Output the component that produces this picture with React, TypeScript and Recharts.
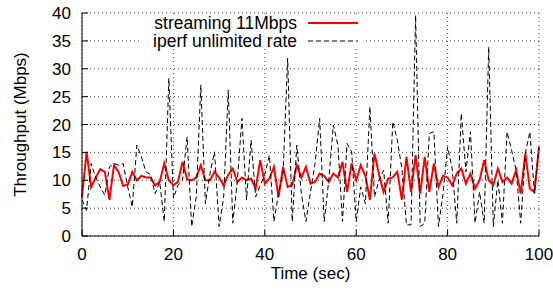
import { LineChart, Line, XAxis, YAxis, CartesianGrid } from "recharts";

const time = [
  0, 1, 2, 3, 4, 5, 6, 7, 8, 9, 10, 11, 12, 13, 14, 15, 16, 17, 18, 19, 20,
  21, 22, 23, 24, 25, 26, 27, 28, 29, 30, 31, 32, 33, 34, 35, 36, 37, 38, 39, 40,
  41, 42, 43, 44, 45, 46, 47, 48, 49, 50, 51, 52, 53, 54, 55, 56, 57, 58, 59, 60,
  61, 62, 63, 64, 65, 66, 67, 68, 69, 70, 71, 72, 73, 74, 75, 76, 77, 78, 79, 80,
  81, 82, 83, 84, 85, 86, 87, 88, 89, 90, 91, 92, 93, 94, 95, 96, 97, 98, 99, 100,
];

// streaming 11Mbps
const streaming = [
  7, 15.1, 8.8, 10.5, 12, 11.5, 6.5, 12.7, 11.5, 9, 9.2,
  11.5, 10, 10.8, 10.5, 10.5, 9.1, 9.7, 13, 10, 9.1,
  9.7, 13.3, 10.2, 10, 10.5, 12.7, 10, 10, 11.5, 10.5,
  9.1, 11, 12.1, 9.7, 10.5, 10, 10.3, 8.5, 13.6, 9.4,
  10.3, 12.4, 7, 12.4, 8.8, 9.1, 12.7, 10.5, 12.4, 9.4,
  9.7, 11.2, 10.8, 9.7, 11.2, 10.5, 13.3, 7.9, 13, 10,
  12.7, 10.8, 6.5, 14.8, 11, 7.9, 10.3, 10.5, 11.5, 6.5,
  14.2, 7.9, 14.5, 7.6, 14.2, 7.9, 13, 8.8, 10.8, 10.5,
  9.1, 11.2, 12.1, 9.4, 11.2, 8.5, 10, 13.6, 10, 9.1,
  12.1, 9.7, 10.5, 9.4, 11.8, 7.6, 14.8, 8.5, 7.9, 16,
];

// iperf unlimited rate
const iperf = [
  6.5, 4.6, 13, 10.5, 8.8, 7.3, 12.4, 13, 12.7, 13, 8.8,
  5.2, 16.3, 14.2, 11.5, 11, 7.6, 9.7, 2.6, 28.3, 6.8,
  9.1, 10, 17.8, 1.7, 7, 27.1, 5.8, 11.2, 15.1, 1.7,
  7, 26.2, 2.3, 10, 21.1, 6.5, 17.2, 7, 9.1, 11,
  14.5, 2.6, 7.6, 11.2, 31.9, 2.6, 16.3, 7.6, 2.6, 7.9,
  13, 21.1, 2.6, 10, 19.9, 16.3, 2.6, 16.6, 15.1, 2.6,
  8.8, 5.8, 23.2, 7, 10, 11.8, 2.3, 20.5, 17.2, 12.1,
  2, 2, 39.6, 1.7, 2.3, 18.4, 18.7, 1.7, 7.6, 16,
  12.1, 2.3, 22, 11.5, 18.7, 2.3, 7.9, 2.3, 33.9, 1.7,
  10, 2.3, 18.7, 15.4, 11.8, 2.3, 14.8, 18.7, 7.6, 16,
];

const xTicks = [0, 20, 40, 60, 80, 100];
const yTicks = [0, 5, 10, 15, 20, 25, 30, 35, 40];

const data = time.map((t, i) => ({ t, streaming: streaming[i], iperf: iperf[i] }));

const font = "'Liberation Sans', Arial, Helvetica, sans-serif";
const tickStyle = { fontSize: 17, fill: "#000", fontFamily: font };

export default function App() {
  return (
    <div style={{ position: "absolute", left: 0, top: 0, width: 553, height: 291, background: "#fff" }}>
      <LineChart width={553} height={291} data={data} margin={{ top: 13, right: 14, left: 0, bottom: 0 }}>
        <CartesianGrid stroke="#444" strokeDasharray="1 3" />
        <XAxis
          dataKey="t"
          type="number"
          domain={[0, 100]}
          ticks={xTicks}
          height={55}
          stroke="#000"
          tickSize={-6}
          tickMargin={18}
          tick={tickStyle}
          label={{ value: "Time (sec)", position: "insideBottom", offset: 12, style: { fontSize: 17, fill: "#000", fontFamily: font } }}
        />
        <XAxis
          xAxisId="top"
          orientation="top"
          dataKey="t"
          type="number"
          domain={[0, 100]}
          ticks={xTicks}
          height={0}
          stroke="#000"
          tickSize={-6}
          tick={false}
          allowDataOverflow
        />
        <YAxis
          type="number"
          domain={[0, 40]}
          ticks={yTicks}
          width={82}
          stroke="#000"
          tickSize={-6}
          tickMargin={17}
          tick={tickStyle}
          label={{
            value: "Throughput (Mbps)",
            angle: -90,
            position: "insideLeft",
            offset: 20,
            style: { textAnchor: "middle", fontSize: 17, fill: "#000", fontFamily: font },
          }}
        />
        <YAxis
          yAxisId="right"
          orientation="right"
          type="number"
          domain={[0, 40]}
          ticks={yTicks}
          width={0}
          stroke="#000"
          tickSize={-6}
          tick={false}
          allowDataOverflow
        />
        <Line
          dataKey="streaming"
          type="linear"
          stroke="#ff0000"
          strokeWidth={2}
          dot={false}
          isAnimationActive={false}
        />
        <Line
          dataKey="iperf"
          type="linear"
          stroke="#000"
          strokeWidth={1}
          strokeDasharray="5 3"
          dot={false}
          isAnimationActive={false}
        />
      </LineChart>
      <svg width={553} height={291} style={{ position: "absolute", left: 0, top: 0, pointerEvents: "none" }}>
        <rect x={140} y={14} width={226} height={35} fill="#fff" />
        <text x={297} y={29} textAnchor="end" fontSize={17.5} fontFamily={font} fill="#000">
          streaming 11Mbps
        </text>
        <line x1={308} x2={358} y1={23} y2={23} stroke="#ff0000" strokeWidth={2} />
        <text x={297} y={47} textAnchor="end" fontSize={17.5} fontFamily={font} fill="#000">
          iperf unlimited rate
        </text>
        <line x1={308} x2={358} y1={41} y2={41} stroke="#000" strokeWidth={1} strokeDasharray="5 3" />
      </svg>
    </div>
  );
}
